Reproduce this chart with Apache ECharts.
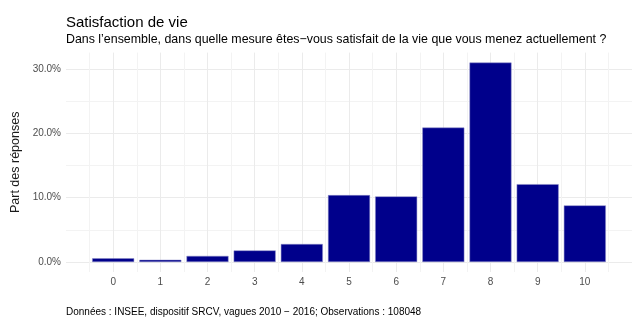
<!DOCTYPE html>
<html>
<head>
<meta charset="utf-8">
<script src="https://cdn.jsdelivr.net/npm/echarts@6/dist/echarts.min.js"></script>
<style>
  html, body { margin: 0; padding: 0; background: #fff; }
  #chart { width: 632px; height: 317px; }
</style>
</head>
<body>
<div id="chart"></div>
<script>
// valeurs (part des réponses, en %)
const notes = [0, 1, 2, 3, 4, 5, 6, 7, 8, 9, 10]
const parts = [0.58, 0.35, 0.95, 1.8, 2.8, 10.4, 10.2, 20.9, 31.0, 12.1, 8.8]
const yLabels = [0, 10, 20, 30]
const yGrid = [0, 5, 10, 15, 20, 25, 30]
const xGrid = [-0.5, 0, 0.5, 1, 1.5, 2, 2.5, 3, 3.5, 4, 4.5, 5, 5.5, 6, 6.5, 7, 7.5, 8, 8.5, 9, 9.5, 10, 10.5]

const font = 'Liberation Sans, Arial, sans-serif'
const chart = echarts.init(document.getElementById('chart'), null, { renderer: 'canvas' })

const option = {
  animation: false,
  backgroundColor: '#ffffff',
  title: [
    {
      text: 'Satisfaction de vie',
      left: 66,
      top: 15,
      padding: 0,
      textStyle: { fontFamily: font, fontSize: 15, fontWeight: 'normal', color: '#000' }
    },
    {
      text: 'Dans l’ensemble, dans quelle mesure êtes−vous satisfait de la vie que vous menez actuellement ?',
      left: 66,
      top: 34,
      padding: 0,
      textStyle: { fontFamily: font, fontSize: 12.4, fontWeight: 'normal', color: '#000' }
    },
    {
      text: 'Données : INSEE, dispositif SRCV, vagues 2010 − 2016; Observations : 108048',
      left: 66,
      top: 307,
      padding: 0,
      textStyle: { fontFamily: font, fontSize: 10, fontWeight: 'normal', color: '#000' }
    }
  ],
  grid: { left: 66, right: 0, top: 52.6, bottom: 45, containLabel: false },
  xAxis: {
    type: 'value',
    min: -1,
    max: 11,
    axisLine: { show: false },
    axisTick: { show: false, customValues: xGrid },
    axisLabel: {
      customValues: notes,
      margin: 5,
      fontFamily: font,
      fontSize: 10,
      color: '#4d4d4d'
    },
    splitLine: { show: true, lineStyle: { color: ['#f3f3f3', '#ebebeb'], width: 1 } }
  },
  yAxis: {
    type: 'value',
    min: -1.55,
    max: 32.55,
    name: 'Part des réponses',
    nameLocation: 'middle',
    nameGap: 36,
    nameTextStyle: { fontFamily: font, fontSize: 12.5, color: '#1a1a1a' },
    axisLine: { show: false },
    axisTick: { show: false, customValues: yGrid },
    axisLabel: {
      customValues: yLabels,
      margin: 5,
      fontFamily: font,
      fontSize: 10,
      color: '#4d4d4d',
      formatter: (v) => v.toFixed(1) + '%'
    },
    splitLine: { show: true, lineStyle: { color: ['#ebebeb', '#f3f3f3'], width: 1 } }
  },
  series: [
    {
      type: 'bar',
      data: notes.map((n, i) => [n, parts[i]]),
      barWidth: 42,
      itemStyle: { color: '#00008b', borderColor: '#8f8fc8', borderWidth: 0.5 }
    }
  ]
}

chart.setOption(option)
</script>
</body>
</html>
